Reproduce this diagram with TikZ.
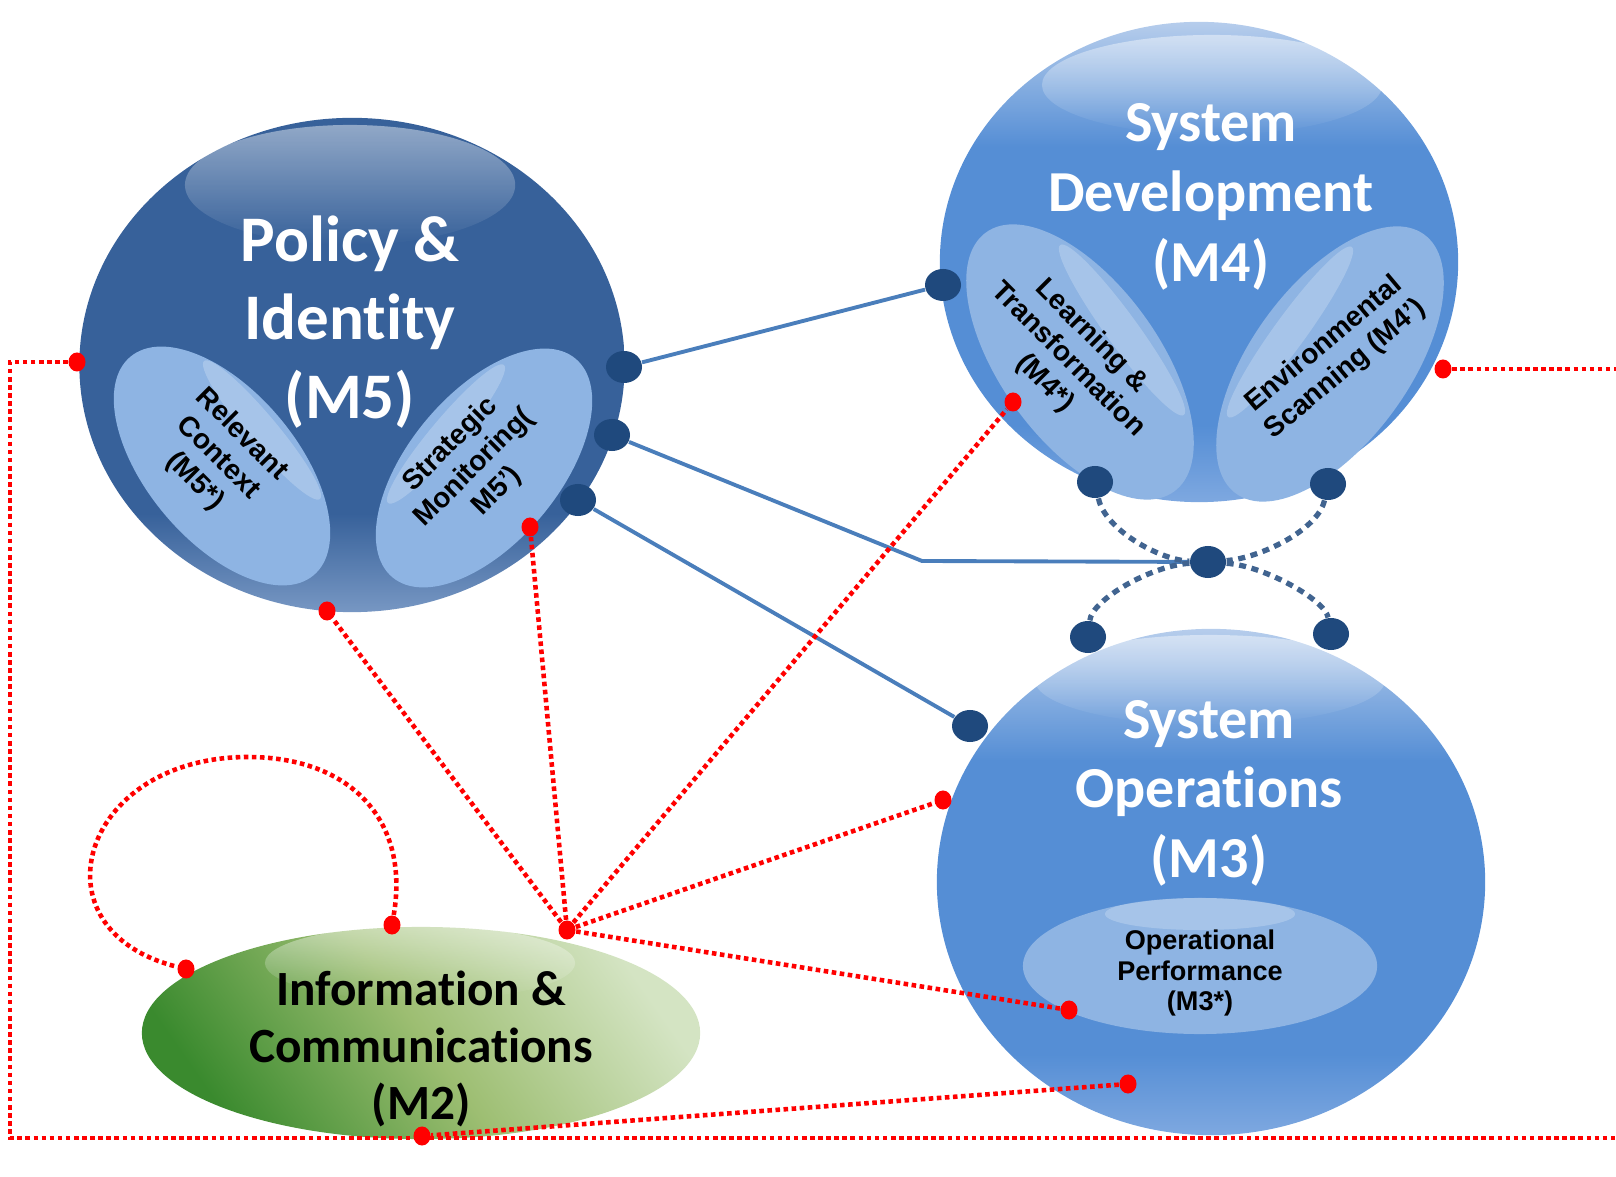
\documentclass[tikz,border=0pt]{standalone}
\usepackage{fontspec}
\setmainfont{Carlito}[Ligatures=NoCommon]
\newfontfamily\smallfont{Liberation Sans}
\usetikzlibrary{shapes.geometric,fadings}

\definecolor{deepblue}{HTML}{37619A}
\definecolor{deeplight}{HTML}{7797C3}
\definecolor{midblue}{HTML}{558ED5}
\definecolor{midlight}{HTML}{7EA8E0}
\definecolor{paleblue}{HTML}{8EB4E3}
\definecolor{topblue}{HTML}{B6CDEC}
\definecolor{navy}{HTML}{1F497D}
\definecolor{linkblue}{HTML}{4A7EBB}
\definecolor{darkgreen}{HTML}{3A8A2E}
\definecolor{midgreen}{HTML}{9DBE72}
\definecolor{palegreen}{HTML}{D4E4C3}

\pgfdeclareverticalshading{policyshade}{100bp}{color(0bp)=(deeplight); color(25bp)=(deeplight); color(35bp)=(deepblue); color(100bp)=(deepblue)}
\pgfdeclareverticalshading{systemshade}{100bp}{color(0bp)=(midlight); color(25bp)=(midlight); color(33bp)=(midblue); color(62bp)=(midblue); color(75bp)=(topblue); color(100bp)=(topblue)}

\pgfdeclarelayer{back}
\pgfdeclarelayer{links}
\pgfsetlayers{back,links,main}

\tikzset{
  ball/.style={ellipse, inner sep=0pt},
  glossy/.style={ellipse, fill=white, fill opacity=0.45, path fading=south, inner sep=0pt},
  streak/.style={ellipse, fill=white, fill opacity=0.22, inner sep=0pt},
  subball/.style={ellipse, fill=paleblue, inner sep=0pt},
  knob/.style={ellipse, fill=navy, minimum width=0.36cm, minimum height=0.32cm, inner sep=0pt},
  pin/.style={ellipse, fill=red, minimum width=0.17cm, minimum height=0.19cm, inner sep=0pt},
  linkline/.style={draw=linkblue, line width=1.1pt},
  feedline/.style={draw=red, line width=1.3pt, dash pattern=on 1.3pt off 1pt},
  loopline/.style={draw=navy!85!white, line width=1.5pt, dash pattern=on 2pt off 1.6pt},
  bigtext/.style={text=white, align=center},
  subtext/.style={font=\smallfont\bfseries\fontsize{8}{9.4}\selectfont, align=center},
}

\begin{document}
\begin{tikzpicture}[x=0.01cm,y=-0.01cm]
  \useasboundingbox (0,0) rectangle (1616,1177);

  \begin{pgfonlayer}{back}
  % the four systems
  \node[ball, shading=policyshade, minimum width=5.45cm, minimum height=4.94cm] (m5) at (352,365) {};
  \node[ball, shading=systemshade, minimum width=5.18cm, minimum height=4.8cm] (m4) at (1199,262) {};
  \node[ball, shading=systemshade, minimum width=5.48cm, minimum height=5.06cm] (m3) at (1211,882) {};
  \node[ball, bottom color=darkgreen, top color=palegreen, middle color=midgreen, shading angle=-55, minimum width=5.58cm, minimum height=2.12cm] (m2) at (421,1033) {};

  % highlights
  \node[glossy, minimum width=3.3cm, minimum height=1.2cm] (m5gloss) at (350,185) {};
  \node[glossy, minimum width=3.4cm, minimum height=1.0cm] (m4gloss) at (1212,85) {};
  \node[glossy, minimum width=3.5cm, minimum height=0.9cm] (m3gloss) at (1210,680) {};
  \node[glossy, minimum width=3.1cm, minimum height=0.75cm] (m2gloss) at (420,963) {};

  % sub functions
  \node[subball, minimum width=2.85cm, minimum height=1.5cm, rotate=-50] (m5ctx) at (222,466) {};
  \node[subball, minimum width=2.85cm, minimum height=1.5cm, rotate=50] (m5mon) at (484,468) {};
  \node[subball, minimum width=3.2cm, minimum height=1.58cm, rotate=-54] (m4learn) at (1080,362) {};
  \node[subball, minimum width=3.2cm, minimum height=1.58cm, rotate=54] (m4scan) at (1330,364) {};
  \node[subball, minimum width=3.54cm, minimum height=1.36cm] (m3perf) at (1200,966) {};
  \node[streak, minimum width=1.8cm, minimum height=0.3cm, rotate=-50] (ctxgloss) at (262,430) {};
  \node[streak, minimum width=1.8cm, minimum height=0.3cm, rotate=50] (mongloss) at (446,434) {};
  \node[streak, minimum width=2.1cm, minimum height=0.32cm, rotate=-54] (learngloss) at (1122,330) {};
  \node[streak, minimum width=2.1cm, minimum height=0.32cm, rotate=54] (scangloss) at (1290,332) {};
  \node[streak, minimum width=1.9cm, minimum height=0.32cm] (perfgloss) at (1200,914) {};

  % labels
  \node[bigtext, font=\bfseries\fontsize{18.5}{22.4}\selectfont] (m5label) at (350,322) {Policy \&\\Identity\\(M5)};
  \node[bigtext, font=\bfseries\fontsize{16.5}{19.8}\selectfont] (m4label) at (1211,197) {System\\Development\\(M4)};
  \node[bigtext, font=\bfseries\fontsize{16.5}{19.8}\selectfont] (m3label) at (1209,793) {System\\Operations\\(M3)};
  \node[align=center, font=\bfseries\fontsize{14}{16.2}\selectfont] (m2label) at (421,1049) {Information \&\\Communications\\(M2)};
  \node[subtext, rotate=-45] (ctxlabel) at (218,458) {Relevant\\Context\\(M5*)};
  \node[subtext, rotate=45] (monlabel) at (474,468) {Strategic\\Monitoring(\\M5’)};
  \node[subtext, rotate=-45] (learnlabel) at (1068,360) {Learning \&\\Transformation\\(M4*)};
  \node[subtext, rotate=40] (scanlabel) at (1335,357) {Environmental\\Scanning (M4’)};
  \node[subtext, font=\smallfont\bfseries\fontsize{7.7}{8.7}\selectfont] (perflabel) at (1200,973) {Operational\\Performance\\(M3*)};
  \end{pgfonlayer}

  % knobs
  \node[knob] (p5a) at (624,367) {};
  \node[knob] (p5b) at (612,435) {};
  \node[knob] (p5c) at (578,500) {};
  \node[knob] (d4a) at (943,285) {};
  \node[knob] (d4b) at (1095,482) {};
  \node[knob] (d4c) at (1328,484) {};
  \node[knob] (hub) at (1208,562) {};
  \node[knob] (o3a) at (1088,637) {};
  \node[knob] (o3b) at (1331,634) {};
  \node[knob] (o3c) at (970,726) {};

  % red pins
  \node[pin] (s5left) at (77,362) {};
  \node[pin] (s5mon) at (530,527) {};
  \node[pin] (s5bottom) at (327,611) {};
  \node[pin] (s4learn) at (1013,402) {};
  \node[pin] (s4right) at (1443,369) {};
  \node[pin] (s3left) at (943,800) {};
  \node[pin] (s3perf) at (1069,1010) {};
  \node[pin] (s3bottom) at (1128,1084) {};
  \node[pin] (s2hub) at (567,930) {};
  \node[pin] (s2top) at (392,925) {};
  \node[pin] (s2left) at (186,969) {};
  \node[pin] (s2bottom) at (422,1136) {};

  \coordinate (bend) at (922,561);
  \coordinate (frameNW) at (10,362);
  \coordinate (frameSW) at (10,1138);
  \coordinate (frameSE) at (1616,1138);
  \coordinate (frameNE) at (1616,369);

  % connectors
  \begin{pgfonlayer}{links}
  \draw[linkline] (p5a) -- (d4a);
  \draw[linkline] (p5b) -- (bend) -- (hub);
  \draw[linkline] (p5c) -- (o3c);
  \draw[loopline] (d4b) .. controls (1105,530) and (1160,560) .. (hub);
  \draw[loopline] (d4c) .. controls (1318,530) and (1260,558) .. (hub);
  \draw[loopline] (hub) .. controls (1150,566) and (1092,600) .. (o3a);
  \draw[loopline] (hub) .. controls (1265,566) and (1325,600) .. (o3b);
  \draw[feedline] (s2hub) -- (s5bottom);
  \draw[feedline] (s2hub) -- (s5mon);
  \draw[feedline] (s2hub) -- (s4learn);
  \draw[feedline] (s2hub) -- (s3left);
  \draw[feedline] (s2hub) -- (s3perf);
  \draw[feedline] (s3bottom) -- (s2bottom);
  \draw[feedline] (s2top) .. controls (410,820) and (350,757) .. (248,757) .. controls (80,757) and (30,930) .. (s2left);
  \draw[feedline] (s5left) -- (frameNW) -- (frameSW) -- (frameSE);
  \draw[feedline] (s4right) -- (frameNE);
  \end{pgfonlayer}
\end{tikzpicture}
\end{document}
